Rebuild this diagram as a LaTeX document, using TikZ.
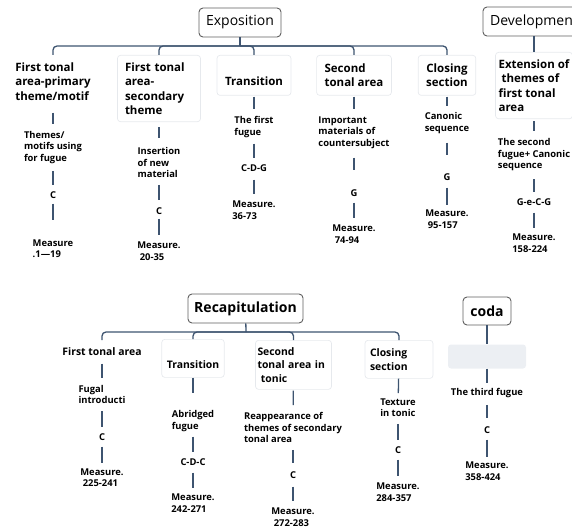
\documentclass[tikz,border=0pt]{standalone}
\usepackage{fontspec}
\setmainfont{Open Sans}
\usetikzlibrary{positioning, calc}

\definecolor{linkblue}{RGB}{62,84,112}
\definecolor{boxgray}{RGB}{95,95,95}
\definecolor{faint}{RGB}{230,233,237}
\definecolor{blankfill}{RGB}{236,239,243}

\begin{document}
\begin{tikzpicture}[
        x=1pt, y=-1pt,
        section/.style={rectangle, draw=boxgray, line width=0.9pt, rounded corners=4pt, fill=white, minimum height=29pt, font=\fontsize{14}{17}\selectfont},
        part/.style={rectangle, draw=faint, line width=0.7pt, rounded corners=3pt, anchor=north, minimum height=40pt, inner xsep=8pt, inner ysep=7pt, align=left, font=\fontsize{11.5}{14.5}\selectfont\bfseries},
        rpart/.style={part, minimum height=38pt, inner xsep=5pt, font=\fontsize{10.4}{13.5}\selectfont\bfseries},
        plain/.style={draw=none, minimum height=0pt},
        detail/.style={inner sep=0pt, align=left, font=\fontsize{9.4}{11.5}\selectfont\bfseries},
        blank/.style={rectangle, fill=blankfill, rounded corners=3pt, minimum width=78pt, minimum height=24pt},
        link/.style={draw=linkblue, line width=1.3pt},
        gap/.style 2 args={shorten <=#1pt, shorten >=#2pt}
    ]
        \useasboundingbox (0,0) rectangle (572,529);
        \clip (0,0) rectangle (572,529);

        % Top level sections
        \node[section, minimum width=82pt] (expo) at (240,22.5) {Exposition};
        \node[section, minimum width=102pt] (dev) at (534,21.5) {Development};
        \node[section, minimum width=115pt, font=\fontsize{14}{17}\selectfont\bfseries] (recap) at (245.5,308.5) {Recapitulation};
        \node[section, minimum width=48pt, minimum height=28pt, font=\fontsize{14}{17}\selectfont\bfseries] (coda) at (487,311) {coda};

        % Exposition parts
        \node[part, plain] (e1) at (53,55) {First tonal\\area-primary\\theme/motif};
        \node[part, text width=68pt, inner xsep=7.5pt] (e2) at (159,55) {First tonal\\area-\\secondary\\theme};
        \node[part, text height=21pt] (e3) at (254,55) {Transition};
        \node[part] (e4) at (354,55) {Second\\tonal area};
        \node[part, align=center] (e5) at (447,55) {Closing\\section};

        % Development part
        \node[part, inner xsep=3pt] (d1) at (534,52) {Extension of\\\ themes of\\first tonal\\area};

        % Exposition details
        \node[detail] (e1a) at (53,147.5) {Themes/\\motifs using\\for fugue};
        \node[detail] (e1b) at (53,195) {C};
        \node[detail] (e1c) at (53,248.5) {Measure\\.1—19};
        \node[detail] (e2a) at (159,162.5) {Insertion\\of new\\material};
        \node[detail] (e2b) at (159,211) {C};
        \node[detail] (e2c) at (159,251) {Measure.\\\ 20-35};
        \node[detail] (e3a) at (254,127) {The first\\fugue};
        \node[detail] (e3b) at (254,168) {C-D-G};
        \node[detail] (e3c) at (254,210) {Measure.\\36-73};
        \node[detail] (e4a) at (354,132.5) {Important\\materials of\\countersubject};
        \node[detail] (e4b) at (354,193) {G};
        \node[detail] (e4c) at (354,234) {Measure.\\\ 74-94};
        \node[detail] (e5a) at (447,123) {Canonic\\sequence};
        \node[detail] (e5b) at (447,177) {G};
        \node[detail] (e5c) at (447,219) {Measure.\\\ 95-157};

        % Development details
        \node[detail] (d1a) at (534,155) {The second\\fugue+ Canonic\\sequence};
        \node[detail] (d1b) at (534,202) {G-e-C-G};
        \node[detail] (d1c) at (534,243) {Measure.\\158-224};

        % Recapitulation parts
        \node[rpart, plain] (r1) at (102,340) {First tonal area};
        \node[rpart, text height=21pt] (r2) at (193,339) {Transition};
        \node[rpart, text width=72pt, inner xsep=2pt] (r3) at (293.5,340) {Second\\tonal area in\\\ tonic};
        \node[rpart, text width=58pt] (r4) at (399,340) {Closing\\section};

        % Recapitulation details
        \node[detail] (r1a) at (102,394.5) {Fugal\\introducti};
        \node[detail] (r1b) at (102,437) {C};
        \node[detail] (r1c) at (102,477.5) {Measure.\\\ 225-241};
        \node[detail] (r2a) at (193,421) {Abridged\\fugue};
        \node[detail] (r2b) at (193,462) {C-D-C};
        \node[detail] (r2c) at (193,503) {Measure.\\242-271};
        \node[detail] (r3a) at (293,427.5) {Reappearance of\\themes of secondary\\tonal area};
        \node[detail] (r3b) at (293,475) {C};
        \node[detail] (r3c) at (293,517) {Measure.\\\ 272-283};
        \node[detail] (r4a) at (398,407.5) {Texture\\in tonic};
        \node[detail] (r4b) at (398,450) {C};
        \node[detail] (r4c) at (398,492) {Measure.\\284-357};

        % Coda
        \node[blank] (cblank) at (487,356.5) {};
        \node[detail] (ca) at (487,393) {The third fugue};
        \node[detail] (cb) at (487,430) {C};
        \node[detail] (cc) at (487,471) {Measure.\\358-424};

        % Junctions
        \coordinate (ej) at (240,46);
        \coordinate (rj) at (246,332);

        % Connections (sections to parts)
        \draw[link] (expo) -- (ej);
        \foreach \p in {e1,e2,e3,e4,e5}
            \draw[link, rounded corners=4pt] (ej) -| (\p.north);
        \draw[link] (dev) -- (d1);
        \draw[link] (recap) -- (rj);
        \foreach \p in {r1,r2,r3,r4}
            \draw[link, rounded corners=4pt] (rj) -| (\p.north);
        \draw[link] (coda) -- (cblank);

        % Connections (Exposition chains)
        \draw[link, gap={5}{7}] (e1) -- (e1a);
        \draw[link, gap={7}{6}] (e1a) -- (e1b);
        \draw[link, gap={5}{19}] (e1b) -- (e1c);
        \draw[link, gap={5}{9}] (e2) -- (e2a);
        \draw[link, gap={7}{7}] (e2a) -- (e2b);
        \draw[link, gap={4}{7}] (e2b) -- (e2c);
        \draw[link, gap={1}{7}] (e3) -- (e3a);
        \draw[link, gap={6}{6}] (e3a) -- (e3b);
        \draw[link, gap={8}{7}] (e3b) -- (e3c);
        \draw[link, gap={1}{7}] (e4) -- (e4a);
        \draw[link, gap={9}{19}] (e4a) -- (e4b);
        \draw[link, gap={6}{7}] (e4b) -- (e4c);
        \draw[link, gap={1}{6}] (e5) -- (e5a);
        \draw[link, gap={9}{18}] (e5a) -- (e5b);
        \draw[link, gap={7}{5}] (e5b) -- (e5c);

        % Connections (Development chain)
        \draw[link, gap={2}{8}] (d1) -- (d1a);
        \draw[link, gap={8}{6}] (d1a) -- (d1b);
        \draw[link, gap={7}{6}] (d1b) -- (d1c);

        % Connections (Recapitulation chains)
        \draw[link, gap={1}{7}] (r1) -- (r1a);
        \draw[link, gap={7}{6}] (r1a) -- (r1b);
        \draw[link, gap={6}{5}] (r1b) -- (r1c);
        \draw[link, gap={0}{17}] (r2) -- (r2a);
        \draw[link, gap={5}{6}] (r2a) -- (r2b);
        \draw[link, gap={7}{6}] (r2b) -- (r2c);
        \draw[link, gap={1}{7}] (r3) -- (r3a);
        \draw[link, gap={7}{8}] (r3a) -- (r3b);
        \draw[link, gap={8}{7}] (r3b) -- (r3c);
        \draw[link, gap={0}{5}] (r4) -- (r4a);
        \draw[link, gap={7}{6}] (r4a) -- (r4b);
        \draw[link, gap={6}{7}] (r4b) -- (r4c);

        % Connections (Coda chain)
        \draw[link, gap={0}{5}] (cblank) -- (ca);
        \draw[link, gap={7}{8}] (ca) -- (cb);
        \draw[link, gap={6}{5}] (cb) -- (cc);
    \end{tikzpicture}
\end{document}
